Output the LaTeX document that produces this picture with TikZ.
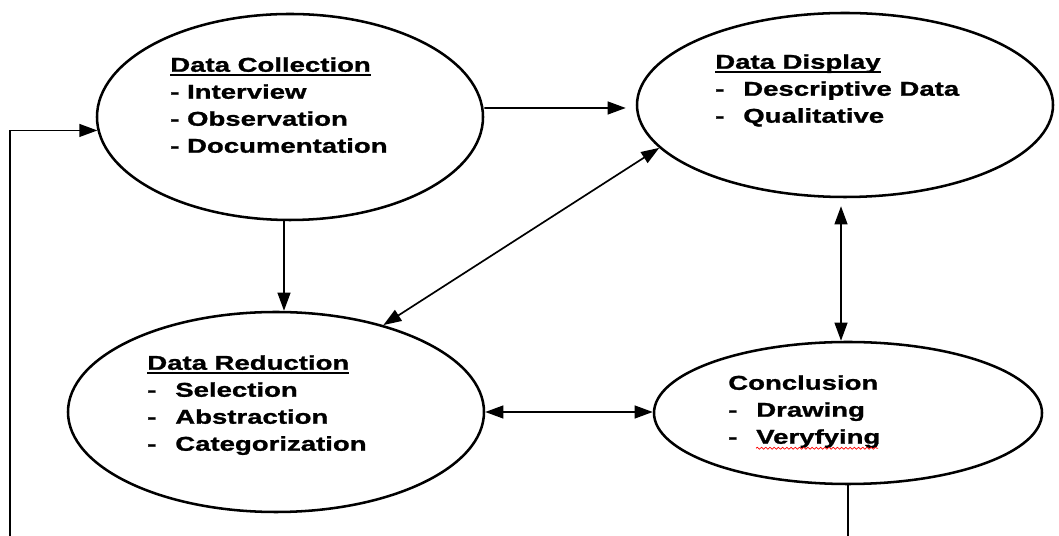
\documentclass[tikz,border=0pt]{standalone}
\usepackage{fontspec}
\setmainfont[FakeStretch=1.38, BoldFeatures={FakeBold=1.2}]{Liberation Sans}
\usetikzlibrary{shapes.geometric}
\usetikzlibrary{arrows.meta}
\usetikzlibrary{decorations.pathmorphing}
\newsavebox{\headbox}
\newcommand{\headline}[1]{\sbox{\headbox}{#1}\rlap{\rule[-3pt]{\wd\headbox}{1.4pt}}\usebox{\headbox}}
\newcommand{\dashitem}[1]{\makebox[0.7cm][l]{-}#1}
\tikzset{
  stage/.style={draw, ellipse, line width=1.8pt, inner sep=0pt},
  stagetext/.style={anchor=north west, inner sep=0pt, align=left, font=\bfseries\fontsize{14.2}{19.2}\selectfont},
  flow/.style={line width=1.2pt, -{Triangle[length=0.45cm,width=0.32cm]}},
  twoway/.style={line width=1.2pt, {Triangle[length=0.45cm,width=0.32cm]}-{Triangle[length=0.45cm,width=0.32cm]}},
  plain/.style={line width=1.2pt},
  spellmark/.style={red, line width=0.5pt, decorate, decoration={snake, amplitude=0.7pt, segment length=3pt}}
}

\begin{document}
\begin{tikzpicture}
\useasboundingbox (0,0) rectangle (26.475,13.4);
% the four stages
\node[stage, minimum width=9.65cm, minimum height=5.15cm] (collect) at (7.25,10.475) {};
\node[stage, minimum width=10.4cm, minimum height=4.6cm] (display) at (21.125,10.775) {};
\node[stage, minimum width=10.4cm, minimum height=5cm] (reduce) at (6.9,3.1) {};
\node[stage, minimum width=9.7cm, minimum height=3.55cm] (concl) at (21.2,3.075) {};
% texts
\node[stagetext] (collecttext) at (4.25,11.975) {\headline{Data Collection}\\- Interview\\- Observation\\- Documentation};
\node[stagetext] (displaytext) at (17.875,12.05) {\headline{Data Display}\\\dashitem{Descriptive Data}\\\dashitem{Qualitative}};
\node[stagetext] (reducetext) at (3.675,4.525) {\headline{Data Reduction}\\\dashitem{Selection}\\\dashitem{Abstraction}\\\dashitem{Categorization}};
\node[stagetext] (concltext) at (18.2,4.025) {Conclusion\\\dashitem{Drawing}\\\dashitem{Veryfying}};
\draw[spellmark] ([xshift=0.7cm]concltext.south west) -- ++(3.05cm,0);
% arrows
\draw[flow] ([yshift=2.25mm]collect.east) -- ([xshift=-2.5mm,yshift=-0.75mm]display.west);
\draw[flow] ([xshift=-1.5mm]collect.south) -- ([xshift=-1.5mm]collect.south |- reduce.north);
\draw[twoway] (reduce.39) -- (display.193);
\draw[twoway, shorten <=2mm] ([xshift=-1mm]display.south) -- ([xshift=-1mm]display.south |- concl.north);
\draw[twoway] (reduce.east) -- (reduce.east -| concl.west);
% back to collection
\coordinate (loopR) at (concl.south |- 0,0);
\coordinate (loopL) at (0.25,0);
\draw[plain] (concl.south) -- (loopR);
\draw[flow] (loopL) |- (collect.184);
\end{tikzpicture}
\end{document}
